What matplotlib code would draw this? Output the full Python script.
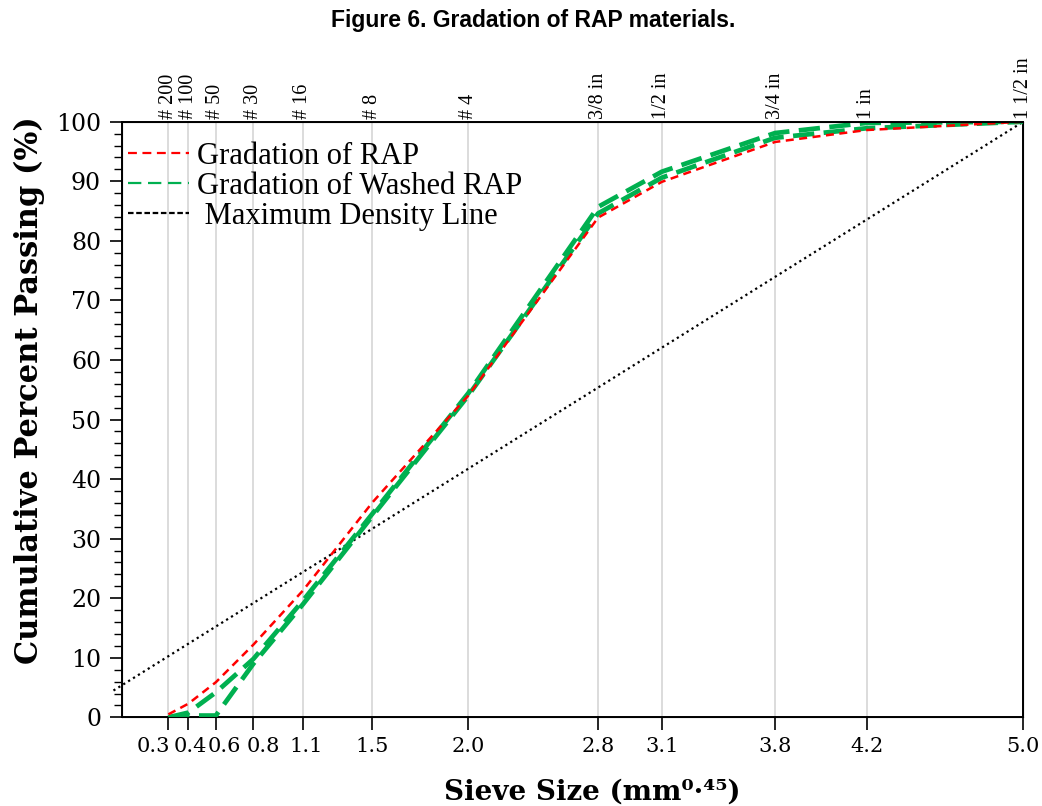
import numpy as np
import matplotlib
matplotlib.use("Agg")
import matplotlib.pyplot as plt
from matplotlib.lines import Line2D
from matplotlib.ticker import MultipleLocator

# sieve positions on the 0.45 power scale (mm^0.45)
sieve_x = [0.312, 0.426, 0.582, 0.795, 1.077, 1.472, 2.016, 2.754, 3.116, 3.76, 4.28, 5.17]
sieve_names = ["# 200", "# 100", "# 50", "# 30", "# 16", "# 8", "# 4",
               "3/8 in", "1/2 in", "3/4 in", "1 in", "1 1/2 in"]
bottom_labels = ["0.3", "0.4", "0.6", "0.8", "1.1", "1.5", "2.0",
                 "2.8", "3.1", "3.8", "4.2", "5.0"]

# percent passing
rap = [0.5, 2.3, 5.9, 12.2, 21.3, 36.1, 54.0, 83.9, 89.9, 96.6, 98.6, 100]
washed_a = [0.0, 0.8, 4.2, 9.8, 19.6, 34.2, 54.4, 85.7, 91.6, 98.1, 99.8, 100]
washed_b = [0.0, 0.3, 0.3, 9.0, 19.0, 33.8, 54.0, 84.6, 90.6, 97.3, 98.9, 100]

# maximum density line end points
mdl_x = [0.0, 5.17]
mdl_y = [4.5, 100.0]

RED = "#ff0000"
GREEN = "#00b050"

fig = plt.figure(figsize=(10.42, 8.06), dpi=100)
ax = fig.add_axes([0.117, 0.110, 0.865, 0.739])

ax.plot(mdl_x, mdl_y, color="black", linestyle=(0, (1, 1.6)), linewidth=1.6,
        clip_on=False, zorder=2)
for ys in (washed_a, washed_b):
    ax.plot(sieve_x, ys, color=GREEN, linewidth=3.4, linestyle=(0, (4.5, 2)),
            zorder=3)
ax.plot(sieve_x, rap, color=RED, linewidth=1.8, linestyle=(0, (3.2, 2.2)),
        zorder=4)

ax.set_xlim(0.048, 5.17)
ax.set_ylim(0, 100)

ax.set_xticks(sieve_x)
ax.set_xticklabels([])
# bottom labels drawn by hand so the crowded small sizes can be nudged sideways
nudges = [-11, 1, 6, 7, 2, 0, 0, 0, 0, 0, 0, 0]  # points
for xv, lab, dx in zip(sieve_x, bottom_labels, nudges):
    ax.annotate(lab, xy=(xv, 0), xycoords=("data", "axes fraction"),
                xytext=(dx, -14), textcoords="offset points",
                ha="center", va="top", fontfamily="DejaVu Serif", fontsize=15,
                annotation_clip=False)

ax.yaxis.set_major_locator(MultipleLocator(10))
ax.yaxis.set_minor_locator(MultipleLocator(2))
for lab in ax.get_yticklabels():
    lab.set_fontfamily("DejaVu Serif")
    lab.set_fontsize(17)
ax.tick_params(axis="x", which="major", direction="out", length=9, width=1.2, pad=8)
ax.tick_params(axis="y", which="major", direction="out", length=9, width=1.2, pad=6)
ax.tick_params(axis="y", which="minor", direction="out", length=6, width=1.0)
ax.grid(axis="x", color="#d9d9d9", linewidth=1.3)
ax.set_axisbelow(True)
for s in ax.spines.values():
    s.set_linewidth(1.4)

ax.set_ylabel("Cumulative Percent Passing (%)", fontfamily="DejaVu Serif",
              fontweight="bold", fontsize=22)
ax.yaxis.set_label_coords(-0.085, 0.55)
ax.set_xlabel("Sieve Size (mm\u2070\u00b7\u2074\u2075)", fontfamily="DejaVu Serif",
              fontweight="bold", fontsize=20)
ax.xaxis.set_label_coords(0.522, -0.103)

top = ax.twiny()
top.set_xlim(ax.get_xlim())
top.set_xticks(sieve_x)
top.set_xticklabels(sieve_names, rotation=90, fontfamily="Liberation Serif", fontsize=14.5)
top.tick_params(axis="x", length=0, pad=2)

handles = [
    Line2D([], [], color=RED, linewidth=1.6, linestyle=(0, (4, 2.5))),
    Line2D([], [], color=GREEN, linewidth=1.6, linestyle=(0, (6, 3))),
    Line2D([], [], color="black", linewidth=1.6, linestyle=(0, (2.5, 1.2))),
]
labels = ["Gradation of RAP", "Gradation of Washed RAP", " Maximum Density Line"]
ax.legend(handles, labels, loc="upper left", frameon=False,
          bbox_to_anchor=(0.0, 0.977),
          prop={"family": "Liberation Serif", "size": 22},
          handlelength=2.0, handletextpad=0.25, labelspacing=0.04,
          borderaxespad=0.0, borderpad=0.2)

fig.text(0.512, 0.975, "Figure 6. Gradation of RAP materials.", ha="center",
         va="center", fontfamily="Liberation Sans", fontweight="bold", fontsize=16.5)

fig.savefig("out.png", dpi=100)
